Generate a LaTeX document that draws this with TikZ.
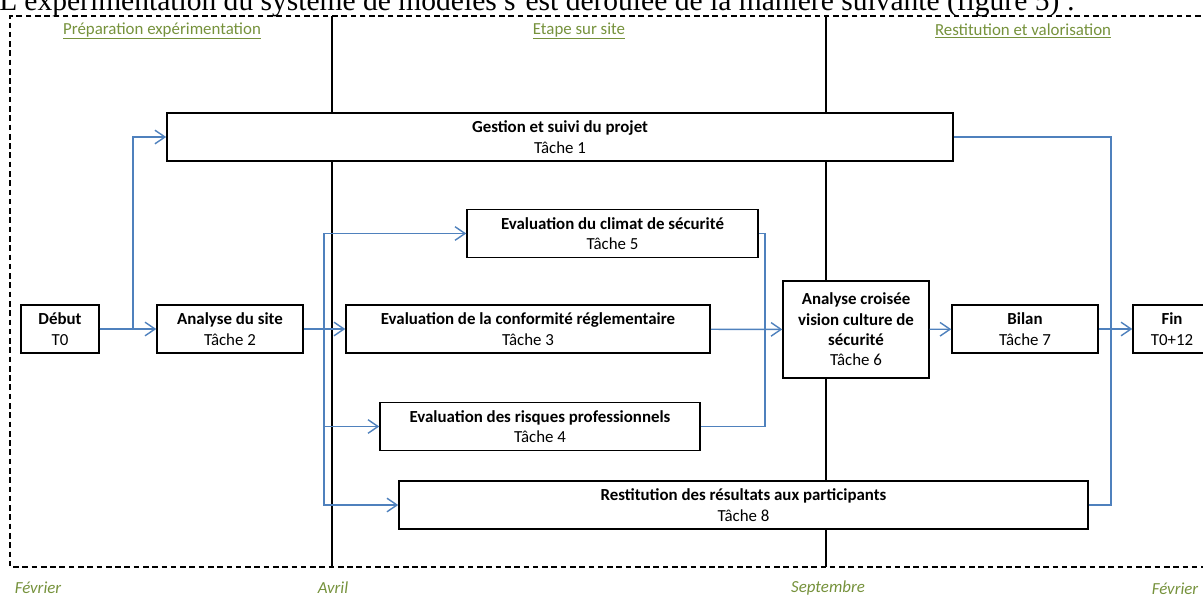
\documentclass[tikz,border=0pt]{standalone}
\usepackage{fontspec}
\setmainfont{Carlito}
\newfontfamily\introfont[Ligatures=TeX]{Liberation Serif}
\usetikzlibrary{arrows.meta}
\definecolor{flowblue}{RGB}{79,129,189}
\definecolor{phasegreen}{RGB}{118,146,60}
\tikzset{
    task/.style={
    draw, line width=1pt,
    align=center,
    minimum height=1.2cm,
    inner sep=2pt,
    font=\fontsize{12}{14.5}\selectfont
    },
    flow/.style={draw=flowblue, line width=1pt, -{Straight Barb[length=2.5mm,width=3.4mm]}},
    link/.style={draw=flowblue, line width=1pt},
    sep/.style={line width=0.9pt},
    frame/.style={line width=1pt, dash pattern=on 4pt off 2.6pt},
    phase/.style={text=phasegreen, font=\fontsize{12}{14}\selectfont},
    month/.style={text=phasegreen, font=\fontsize{12}{14}\selectfont\itshape}
}

\begin{document}
\begin{tikzpicture}[x=0.025cm,y=-0.025cm]
\clip (0,0) rectangle (1203,599);

\node[anchor=base west, inner sep=0pt, font=\introfont\fontsize{21}{24}\selectfont] (intro) at (-1,10)
  {L'expérimentation du système de modèles s'est déroulée de la manière suivante (figure 5) :};

% cadre et phases
\draw[frame] (1210,16) -- (10,16) -- (10,567) -- (1210,567);
\node[phase] (ph1) at (162,31) {\underline{Préparation expérimentation}};
\node[phase] (ph2) at (579,31) {\underline{Etape sur site}};
\node[phase] (ph3) at (1023,31) {\underline{Restitution et valorisation}};

\node[month] (m1) at (38,588) {Février};
\node[month] (m2) at (333,588) {Avril};
\node[month] (m3) at (828,588) {Septembre};
\node[month] (m4) at (1175,589) {Février};

% taches
\node[task, minimum width=1.95cm] (debut) at (60,329) {\textbf{Début}\\T0};
\node[task, minimum width=3.65cm] (site) at (230,329) {\textbf{Analyse du site}\\Tâche 2};
\node[task, minimum width=19.65cm] (gestion) at (560,137) {\textbf{Gestion et suivi du projet}\\Tâche 1};
\node[task, minimum width=7.275cm] (climat) at (612.5,233.5) {\textbf{Evaluation du climat de sécurité}\\Tâche 5};
\node[task, minimum width=9.1cm] (conform) at (528,329) {\textbf{Evaluation de la conformité réglementaire}\\Tâche 3};
\node[task, minimum width=8cm] (risques) at (540,426.5) {\textbf{Evaluation des risques professionnels}\\Tâche 4};
\node[task, minimum width=17.225cm] (restit) at (743.5,505) {\textbf{Restitution des résultats aux participants}\\Tâche 8};
\node[task, minimum width=3.65cm, minimum height=2.425cm] (croisee) at (856,329.5)
  {\textbf{Analyse croisée}\\\textbf{vision culture de}\\\textbf{sécurité}\\Tâche 6};
\node[task, minimum width=3.65cm] (bilan) at (1025,329) {\textbf{Bilan}\\Tâche 7};
\node[task, minimum width=1.95cm] (fin) at (1172,329) {\textbf{Fin}\\T0+12};

% separations des phases
\coordinate (s1top) at (332,16);
\coordinate (s1bot) at (332,567);
\coordinate (s2top) at (826,16);
\coordinate (s2bot) at (826,567);
\draw[sep] (s1top) -- (s1top |- gestion.north);
\draw[sep] (s1top |- gestion.south) -- (s1bot);
\draw[sep] (s2top) -- (s2top |- gestion.north);
\draw[sep] (s2top |- gestion.south) -- (s2top |- croisee.north);
\draw[sep] (s2top |- croisee.south) -- (s2top |- restit.north);
\draw[sep] (s2top |- restit.south) -- (s2bot);

% liens
\coordinate (j1) at (133,329);
\coordinate (j2) at (324,329);
\coordinate (j3) at (765,329);
\coordinate (j4) at (1111,329);

\draw[flow] (debut) -- (site);
\draw[flow] (debut.east) -- (j1) |- (gestion.west);
\draw[flow] (site) -- (conform);
\draw[flow] (j2) |- (climat.west);
\draw[flow] (j2) |- (risques.west);
\draw[flow] (j2) |- (restit.west);
\draw[link] (climat.east) -| (j3);
\draw[link] (risques.east) -| (j3);
\draw[flow] (conform) -- (croisee);
\draw[flow] (croisee) -- (bilan);
\draw[link] (gestion.east) -| (j4);
\draw[link] (restit.east) -| (j4);
\draw[flow] (bilan) -- (fin);

\end{tikzpicture}
\end{document}
